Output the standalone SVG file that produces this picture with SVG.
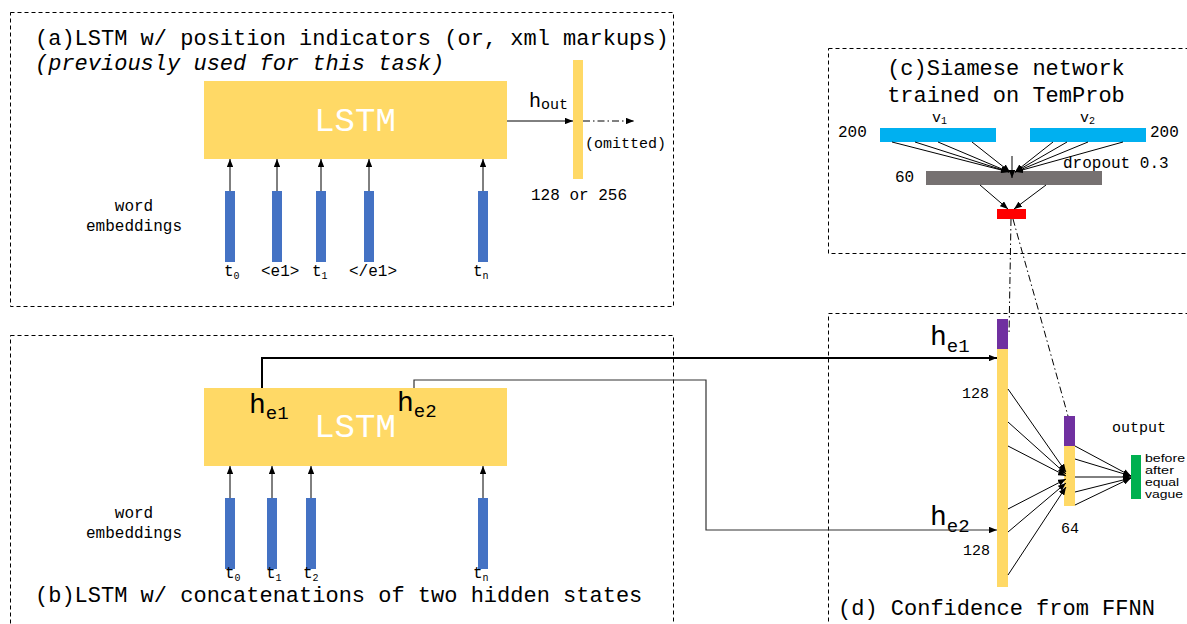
<svg xmlns="http://www.w3.org/2000/svg" width="1187" height="624" viewBox="0 0 1187 624">
<defs>
<marker id="ah" viewBox="0 0 10 8" refX="10" refY="4" markerWidth="8" markerHeight="6.4" orient="auto" markerUnits="userSpaceOnUse"><path d="M0,0 L10,4 L0,8 z" fill="#000"/></marker>
</defs>
<style>
.box{fill:none;stroke:#000;stroke-width:1;stroke-dasharray:4 3}
.mono{font-family:"Liberation Mono","Courier New",monospace;fill:#000}
.sans{font-family:"Liberation Sans",Arial,sans-serif;fill:#000}
.emb{fill:#4472C4}
.yel{fill:#FFD966}
.pur{fill:#7030A0}
.ln{stroke:#000;stroke-width:1;fill:none}
.arr{marker-end:url(#ah)}
.dd{stroke-dasharray:7 3 1.5 3}
.lstm{font-family:"Liberation Mono","Courier New",monospace;fill:#fff;font-size:34px}
</style>
<rect width="1187" height="624" fill="#fff"/>

<g id="panel-a">
<rect class="box" x="10.5" y="12.5" width="663" height="294"/>
<text class="mono" x="35" y="45" font-size="22">(a)LSTM w/ position indicators (or, xml markups)</text>
<text class="mono" x="35" y="70" font-size="22" font-style="italic">(previously used for this task)</text>
</g>
<g id="lstm-a">
<rect class="yel" x="204" y="81" width="303" height="78"/>
<text class="lstm" x="355" y="131" text-anchor="middle">LSTM</text>
</g>
<g id="emb-a">
<rect class="emb" x="225" y="191" width="10" height="71"/>
<rect class="emb" x="272" y="191" width="10" height="71"/>
<rect class="emb" x="316" y="191" width="10" height="71"/>
<rect class="emb" x="364" y="191" width="10" height="71"/>
<rect class="emb" x="478" y="191" width="10" height="71"/>
<text class="mono" x="134" y="211" font-size="16" text-anchor="middle">word</text>
<text class="mono" x="134" y="231" font-size="16" text-anchor="middle">embeddings</text>
<text class="mono" x="224" y="276" font-size="16">t<tspan font-size="10" dy="3">0</tspan></text>
<text class="mono" x="261" y="276" font-size="16">&lt;e1&gt;</text>
<text class="mono" x="312" y="276" font-size="16">t<tspan font-size="10" dy="3">1</tspan></text>
<text class="mono" x="349" y="276" font-size="16">&lt;/e1&gt;</text>
<text class="mono" x="473" y="276" font-size="16">t<tspan font-size="10" dy="3">n</tspan></text>
</g>
<g id="hout-a">
<rect class="yel" x="573" y="60" width="10" height="119"/>
<text class="mono" x="529" y="107" font-size="20">h<tspan font-size="15" dy="2">out</tspan></text>
<text class="mono" x="585" y="148" font-size="15">(omitted)</text>
<text class="mono" x="531" y="200" font-size="16">128 or 256</text>
</g>

<g id="panel-b">
<rect class="box" x="10.5" y="335.5" width="663" height="300"/>
<text class="mono" x="35" y="602" font-size="22">(b)LSTM w/ concatenations of two hidden states</text>
</g>
<g id="lstm-b">
<rect class="yel" x="204" y="388" width="303" height="78"/>
<text class="lstm" x="355" y="437" text-anchor="middle">LSTM</text>
<text class="mono" x="249" y="413" font-size="28">h<tspan font-size="19" dy="6">e1</tspan></text>
<text class="mono" x="397" y="411" font-size="28">h<tspan font-size="19" dy="6">e2</tspan></text>
</g>
<g id="emb-b">
<rect class="emb" x="225" y="498" width="10" height="71"/>
<rect class="emb" x="267" y="498" width="10" height="71"/>
<rect class="emb" x="306" y="498" width="10" height="71"/>
<rect class="emb" x="478" y="498" width="10" height="71"/>
<text class="mono" x="134" y="518" font-size="16" text-anchor="middle">word</text>
<text class="mono" x="134" y="538" font-size="16" text-anchor="middle">embeddings</text>
<text class="mono" x="225" y="578" font-size="16">t<tspan font-size="10" dy="3">0</tspan></text>
<text class="mono" x="266" y="578" font-size="16">t<tspan font-size="10" dy="3">1</tspan></text>
<text class="mono" x="303" y="578" font-size="16">t<tspan font-size="10" dy="3">2</tspan></text>
<text class="mono" x="473" y="578" font-size="16">t<tspan font-size="10" dy="3">n</tspan></text>
</g>

<g id="panel-c">
<rect class="box" x="828.5" y="48.5" width="370" height="205"/>
<text class="mono" x="1006" y="75" font-size="22" text-anchor="middle">(c)Siamese network</text>
<text class="mono" x="1006" y="102" font-size="22" text-anchor="middle">trained on TemProb</text>
</g>
<g id="siamese">
<rect x="880" y="128" width="116" height="14" fill="#00B0F0"/>
<rect x="1030" y="128" width="116" height="14" fill="#00B0F0"/>
<text class="mono" x="932" y="122" font-size="15">v<tspan font-size="10" dy="2">1</tspan></text>
<text class="mono" x="1080" y="122" font-size="15">v<tspan font-size="10" dy="2">2</tspan></text>
<text class="mono" x="838" y="137" font-size="16">200</text>
<text class="mono" x="1150" y="137" font-size="16">200</text>
<rect x="926" y="171" width="176" height="14" fill="#767171"/>
<text class="mono" x="895" y="182" font-size="16">60</text>
<text class="mono" x="1063" y="168" font-size="16">dropout 0.3</text>
<rect x="997" y="209" width="29" height="10" fill="#FF0000"/>
</g>

<g id="panel-d">
<rect class="box" x="828.5" y="313.5" width="370" height="330"/>
<text class="mono" x="838" y="615" font-size="22">(d) Confidence from FFNN</text>
</g>
<g id="ffnn-input">
<rect class="pur" x="997" y="319" width="11" height="30"/>
<rect class="yel" x="997" y="349" width="11" height="238"/>
<text class="mono" x="930" y="345" font-size="28">h<tspan font-size="19" dy="7">e1</tspan></text>
<text class="mono" x="930" y="525" font-size="28">h<tspan font-size="19" dy="7">e2</tspan></text>
<text class="mono" x="962" y="398" font-size="15">128</text>
<text class="mono" x="963" y="555" font-size="15">128</text>
</g>
<g id="ffnn-hidden">
<rect class="pur" x="1064" y="416" width="11" height="30"/>
<rect class="yel" x="1064" y="446" width="11" height="60"/>
<text class="mono" x="1061" y="533" font-size="15">64</text>
</g>
<g id="ffnn-output">
<rect x="1131" y="455" width="10" height="44" fill="#00B050"/>
<text class="mono" x="1112" y="432" font-size="15">output</text>
<text class="sans" x="1145" y="462" font-size="10.5" textLength="40" lengthAdjust="spacingAndGlyphs">before</text>
<text class="sans" x="1145" y="474" font-size="10.5" textLength="29" lengthAdjust="spacingAndGlyphs">after</text>
<text class="sans" x="1145" y="486" font-size="10.5" textLength="34" lengthAdjust="spacingAndGlyphs">equal</text>
<text class="sans" x="1145" y="498" font-size="10.5" textLength="38" lengthAdjust="spacingAndGlyphs">vague</text>
</g>

<g id="connectors">
<line class="ln arr" x1="230" y1="191" x2="230" y2="159"/>
<line class="ln arr" x1="277" y1="191" x2="277" y2="159"/>
<line class="ln arr" x1="321" y1="191" x2="321" y2="159"/>
<line class="ln arr" x1="369" y1="191" x2="369" y2="159"/>
<line class="ln arr" x1="483" y1="191" x2="483" y2="159"/>
<line class="ln arr" x1="507" y1="121" x2="573" y2="121"/>
<line class="ln arr dd" x1="583" y1="121" x2="634" y2="121"/>
<line class="ln arr" x1="230" y1="498" x2="230" y2="466"/>
<line class="ln arr" x1="272" y1="498" x2="272" y2="466"/>
<line class="ln arr" x1="311" y1="498" x2="311" y2="466"/>
<line class="ln arr" x1="483" y1="498" x2="483" y2="466"/>
<polyline class="arr" points="262,388 262,358 997,358" fill="none" stroke="#000" stroke-width="2"/>
<polyline class="arr" points="414,388 414,380 706,380 706,530 997,530" fill="none" stroke="#333" stroke-width="1.2"/>
<line class="ln arr" x1="892" y1="142" x2="1009" y2="172"/>
<line class="ln arr" x1="915" y1="142" x2="1009" y2="172"/>
<line class="ln arr" x1="938" y1="142" x2="1009" y2="172"/>
<line class="ln arr" x1="972" y1="142" x2="1010" y2="172"/>
<line class="ln arr" x1="1053" y1="142" x2="1015" y2="172"/>
<line class="ln arr" x1="1067" y1="142" x2="1015" y2="172"/>
<line class="ln arr" x1="1088" y1="142" x2="1015" y2="172"/>
<line class="ln arr" x1="1123" y1="142" x2="1015" y2="172"/>
<line class="ln arr" x1="1012" y1="156" x2="1012" y2="178"/>
<line class="ln arr" x1="980" y1="185" x2="1008" y2="209"/>
<line class="ln arr" x1="1046" y1="185" x2="1014" y2="209"/>
<line class="ln dd" x1="1011" y1="219" x2="1009" y2="335"/>
<line class="ln dd" x1="1013" y1="219" x2="1068" y2="416"/>
<line class="ln arr" x1="1008" y1="389" x2="1066" y2="472"/>
<line class="ln arr" x1="1008" y1="422" x2="1066" y2="474"/>
<line class="ln arr" x1="1008" y1="446" x2="1066" y2="476"/>
<line class="ln arr" x1="1008" y1="509" x2="1066" y2="479"/>
<line class="ln arr" x1="1008" y1="532" x2="1066" y2="483"/>
<line class="ln arr" x1="1008" y1="575" x2="1066" y2="487"/>
<line class="ln arr" x1="1075" y1="446" x2="1131" y2="476"/>
<line class="ln arr" x1="1075" y1="459" x2="1131" y2="476"/>
<line class="ln arr" x1="1075" y1="477" x2="1131" y2="477"/>
<line class="ln arr" x1="1075" y1="492" x2="1131" y2="478"/>
<line class="ln arr" x1="1075" y1="505" x2="1131" y2="478"/>
</g>
</svg>
